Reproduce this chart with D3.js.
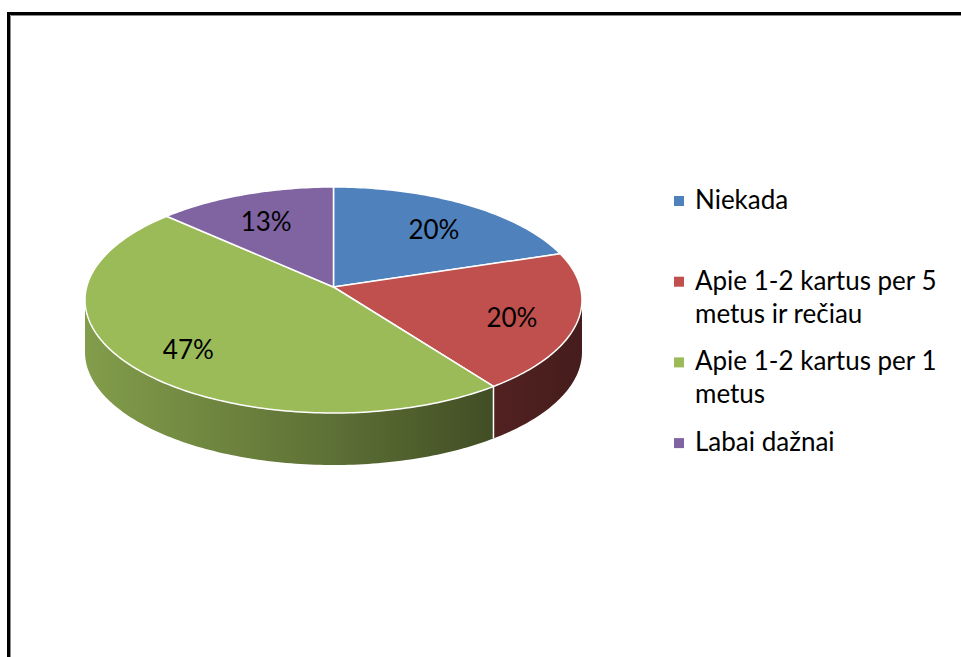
<!DOCTYPE html>
<html>
<head>
<meta charset="utf-8">
<script src="https://cdn.jsdelivr.net/npm/d3@7"></script>
<style>
  body { margin: 0; background: #fff; }
  svg { display: block; }
</style>
</head>
<body>
<svg id="chart"></svg>
<script>
// chart data
var categories = ["Niekada", "Apie 1-2 kartus per 5 metus ir rečiau", "Apie 1-2 kartus per 1 metus", "Labai dažnai"];
var legendLines = [["Niekada"], ["Apie 1-2 kartus per 5", "metus ir rečiau"], ["Apie 1-2 kartus per 1", "metus"], ["Labai dažnai"]];
var values = [20, 20, 47, 13];
var valueLabels = ["20%", "20%", "47%", "13%"];
var colors = ["#4F81BD", "#C0504D", "#9BBB59", "#8064A2"];

var width = 961, height = 657;
var cx = 333.5, cy = 300, rx = 248.5, ry = 113;
var depth = 52;
var tilt = 0.115; // perspective shift of the pie centre toward the back

var svg = d3.select("#chart").attr("width", width).attr("height", height);

// frame (runs off the right and bottom edges)
svg.append("rect")
  .attr("x", 8.5).attr("y", 13.5)
  .attr("width", width + 20).attr("height", height + 20)
  .attr("fill", "#fff").attr("stroke", "#000").attr("stroke-width", 3);
svg.append("path")
  .attr("d", "M10.5," + height + "V15.5H" + width)
  .attr("fill", "none").attr("stroke", "#8a8a8a").attr("stroke-width", 1);

var sx = d3.scaleLinear().domain([-1, 1]).range([cx - rx, cx + rx]);
var sy = d3.scaleLinear().domain([-1, 1]).range([cy + ry, cy - ry]);

// point on a tilted circle, angle clockwise from top, seen in perspective
function project(theta, r, dz) {
  var x = r * Math.sin(theta), y = r * Math.cos(theta);
  var den = 1 + tilt * y;
  var xp = x * Math.sqrt(1 - tilt * tilt) / den;
  var yp = (y + tilt) / den;
  return [sx(xp), sy(yp) + (dz || 0)];
}

function arcPoints(a0, a1, dz) {
  var n = Math.max(2, Math.ceil(Math.abs(a1 - a0) / (Math.PI / 180)));
  return d3.range(n + 1).map(function(i) { return project(a0 + (a1 - a0) * i / n, 1, dz); });
}

var pie = d3.pie().sort(null).value(function(d) { return d; });
var slices = pie(values);
var line = d3.line();

// gradients for the side walls
var defs = svg.append("defs");
colors.forEach(function(c, i) {
  var g = defs.append("linearGradient")
    .attr("id", "side" + i)
    .attr("gradientUnits", "userSpaceOnUse")
    .attr("x1", cx - rx).attr("x2", cx + rx).attr("y1", 0).attr("y2", 0);
  [[0, 0.84], [0.5, 0.6], [0.8, 0.43], [1, 0.36]].forEach(function(s) {
    var base = d3.rgb(c);
    g.append("stop").attr("offset", s[0])
      .attr("stop-color", d3.rgb(base.r * s[1], base.g * s[1], base.b * s[1]).toString());
  });
});

// visible part of the wall: where the rim is in front
var vis0 = Math.acos(-tilt), vis1 = 2 * Math.PI - Math.acos(-tilt);

var sides = svg.append("g");
slices.forEach(function(s, i) {
  var a0 = Math.max(s.startAngle, vis0), a1 = Math.min(s.endAngle, vis1);
  if (a1 <= a0) return;
  var top = arcPoints(a0, a1, 0);
  var bottom = arcPoints(a1, a0, depth);
  sides.append("path")
    .attr("d", line(top.concat(bottom)) + "Z")
    .attr("fill", "url(#side" + i + ")");
});
slices.forEach(function(s) {
  var a = s.startAngle;
  if (a > vis0 && a < vis1) {
    var p = project(a, 1, 0);
    sides.append("line")
      .attr("x1", p[0]).attr("y1", p[1]).attr("x2", p[0]).attr("y2", p[1] + depth)
      .attr("stroke", "#fff").attr("stroke-width", 1.5);
  }
});

// top face
var apex = project(0, 0, 0);
svg.append("g").selectAll("path")
  .data(slices)
  .enter().append("path")
  .attr("d", function(d) { return line([apex].concat(arcPoints(d.startAngle, d.endAngle, 0))) + "Z"; })
  .attr("fill", function(d, i) { return colors[i]; })
  .attr("stroke", "#fff")
  .attr("stroke-width", 1.5)
  .attr("stroke-linejoin", "round");

// data labels
function labelPos(d) {
  var p = project((d.startAngle + d.endAngle) / 2, 0.74, 0);
  return [p[0], p[1] + 5];
}
svg.append("g").selectAll("text")
  .data(slices)
  .enter().append("text")
  .attr("x", function(d) { return labelPos(d)[0]; })
  .attr("y", function(d) { return labelPos(d)[1]; })
  .attr("dy", "0.35em")
  .attr("text-anchor", "middle")
  .style("font-family", "Lato, 'Open Sans', sans-serif")
  .style("font-size", "26px")
  .style("fill", "#000")
  .text(function(d, i) { return valueLabels[i]; });

// legend
var legendX = 674, legendY = 209, legendPitch = 80.7, lineH = 33;
var legend = svg.append("g").selectAll("g")
  .data(categories)
  .enter().append("g")
  .attr("transform", function(d, i) { return "translate(" + legendX + "," + (legendY + i * legendPitch) + ")"; });

legend.append("rect")
  .attr("x", 0).attr("y", -13)
  .attr("width", 10).attr("height", 10)
  .attr("fill", function(d, i) { return colors[i]; });

legend.append("text")
  .attr("x", 21)
  .style("font-family", "Lato, 'Open Sans', sans-serif")
  .style("font-size", "26px")
  .style("fill", "#000")
  .selectAll("tspan")
  .data(function(d, i) { return legendLines[i]; })
  .enter().append("tspan")
  .attr("x", 21)
  .attr("y", function(d, j) { return j * lineH; })
  .text(function(d) { return d; });
</script>
</body>
</html>
